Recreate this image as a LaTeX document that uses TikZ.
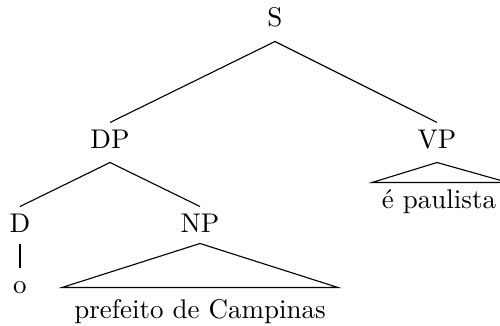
\documentclass[tikz,border=0pt]{standalone}
\usepackage{tikz}

\begin{document}
\begin{tikzpicture}[
		x=0.4pt, y=-0.4pt,
		every node/.style={font=\fontsize{10.8}{13}\selectfont},
		cat/.style={
			inner xsep=0pt,
			inner ysep=2.8pt,
			text height=7.2pt,
			text depth=2.8pt,
			anchor=base
		},
		leaf/.style={
			inner xsep=0pt,
			inner ysep=5.5pt,
			text height=4.5pt,
			text depth=0pt,
			anchor=base
		},
		yield/.style={
			inner xsep=0pt,
			text height=7.2pt,
			text depth=0pt,
			anchor=base
		},
		branch/.style={
			line width=0.45pt
		}
		]
		
		\useasboundingbox (0,0) rectangle (500,326);
		\clip (0,0) rectangle (500,326);
		
		% Nodes
		\node[cat] (S) at (275,27) {S};
		
		\node[cat] (DP) at (110,148) {DP};
		\node[cat] (VP) at (437,148) {VP};
		
		\node[cat, text depth=1.6pt] (D) at (20,232) {D};
		\node[cat, text depth=1.6pt] (NP) at (200,232) {NP};
		
		\node[leaf] (det) at (20,293) {o};
		\node[yield, inner ysep=4.8pt] (npyield) at (200,318) {prefeito de Campinas};
		\node[yield, inner ysep=3.2pt] (vpyield) at (439,209) {é paulista};
		
		% Branches
		\draw[branch] (S.south) -- (DP.north);
		\draw[branch] (S.south) -- (VP.north);
		
		\draw[branch] (DP.south) -- (D.north);
		\draw[branch] (DP.south) -- (NP.north);
		
		\draw[branch] (D.south) -- (det.north);
		
		% Triangles
		\draw[branch] (NP.south) -- ([xshift=-55.2pt]npyield.north)
		-- ([xshift=55.2pt]npyield.north) -- cycle;
		\draw[branch] (VP.south) -- ([xshift=-26.8pt]vpyield.north)
		-- ([xshift=27.6pt]vpyield.north) -- cycle;
		
	\end{tikzpicture}
\end{document}
